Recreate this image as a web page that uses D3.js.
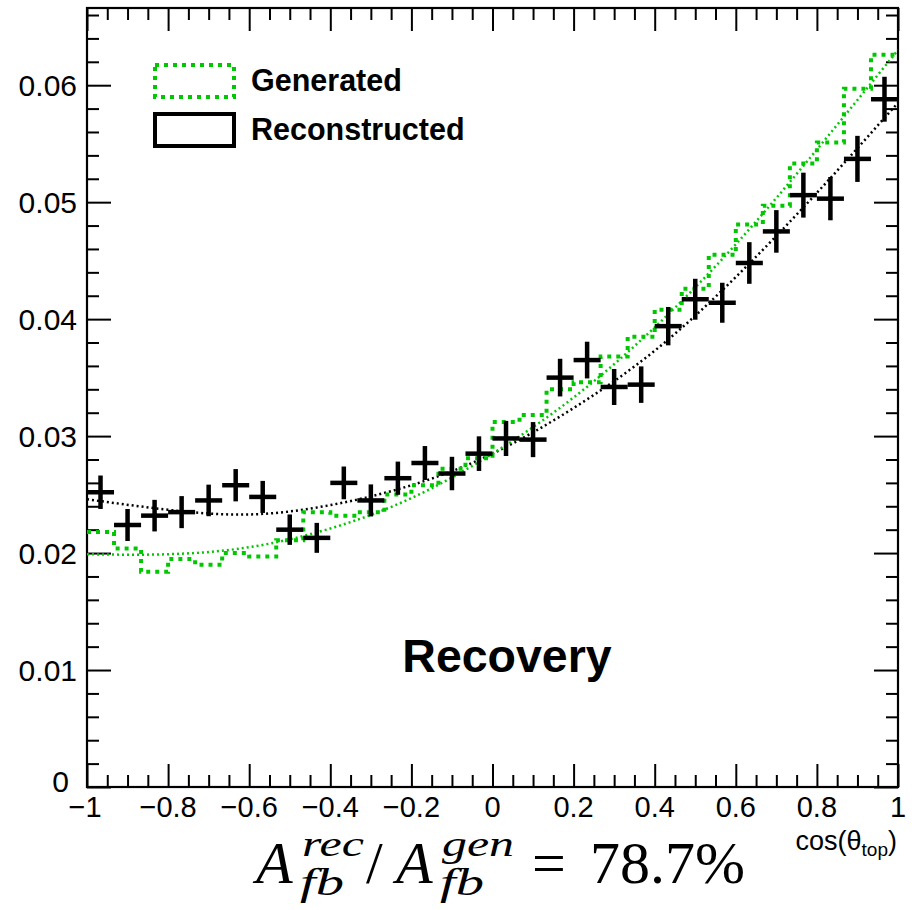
<!DOCTYPE html>
<html>
<head>
<meta charset="utf-8">
<script src="https://cdn.jsdelivr.net/npm/d3@7"></script>
<style>
  html, body { margin: 0; padding: 0; background: #fff; }
  svg { display: block; }
  text { font-family: "Liberation Sans", Arial, Helvetica, sans-serif; fill: #000; }
  text.math { font-family: "Liberation Serif", "Times New Roman", serif; }
</style>
</head>
<body>
<svg id="chart" width="918" height="910"></svg>
<script>
// Bin edges of cos(theta_top): 30 equal bins on [-1, 1]
const binLow = -1, binHigh = 1, nBins = 30;

// Generated distribution (normalised bin contents)
const generated = [
  0.0218, 0.0204, 0.0184, 0.0195, 0.0190, 0.0200, 0.0197, 0.0211, 0.0235, 0.0232,
  0.0235, 0.0250, 0.0258, 0.0272, 0.0281, 0.0312, 0.0318, 0.0340, 0.0346, 0.0368,
  0.0385, 0.0408, 0.0426, 0.0455, 0.0481, 0.0497, 0.0533, 0.0551, 0.0597, 0.0626
];

// Reconstructed distribution (normalised bin contents) and their uncertainties
const reconstructed = [
  0.0252, 0.0224, 0.0232, 0.0235, 0.0245, 0.0258, 0.0248, 0.0220, 0.0213, 0.0260,
  0.0245, 0.0264, 0.0277, 0.0268, 0.0285, 0.0298, 0.0297, 0.0350, 0.0365, 0.0342,
  0.0344, 0.0394, 0.0417, 0.0414, 0.0448, 0.0475, 0.0506, 0.0503, 0.0537, 0.0588
];
const recErrors = [
  0.00143, 0.00137, 0.00135, 0.00137, 0.00135, 0.00138, 0.00137, 0.00130, 0.00128, 0.00140,
  0.00137, 0.00142, 0.00145, 0.00143, 0.00148, 0.00150, 0.00150, 0.00161, 0.00157, 0.00154,
  0.00156, 0.00164, 0.00175, 0.00171, 0.00178, 0.00182, 0.00192, 0.00185, 0.00197, 0.00192
];

// Fitted curves, sampled at these cos(theta) points
const fitX      = [-1, -0.8, -0.6, -0.4, -0.2, 0, 0.2, 0.4, 0.6, 0.8, 1];
const genFit    = [0.0199, 0.0199, 0.0205, 0.0221, 0.0247, 0.0285, 0.0333, 0.0393, 0.0464, 0.0545, 0.0630];
const recFit    = [0.0246, 0.0237, 0.0233, 0.0241, 0.0258, 0.0285, 0.0324, 0.0373, 0.0436, 0.0508, 0.0585];

// Axis ticks
const xMajorTicks = [-1, -0.8, -0.6, -0.4, -0.2, 0, 0.2, 0.4, 0.6, 0.8, 1];
const xTickLabels = ["\u22121", "\u22120.8", "\u22120.6", "\u22120.4", "\u22120.2", "0", "0.2", "0.4", "0.6", "0.8", "1"];
const yMajorTicks = [0, 0.01, 0.02, 0.03, 0.04, 0.05, 0.06];
const yTickLabels = ["0", "0.01", "0.02", "0.03", "0.04", "0.05", "0.06"];
const yMax = 0.0666;

const legendItems = ["Generated", "Reconstructed"];

const GREEN = "#00c800";

const svg = d3.select("#chart");
const frame = { left: 87, right: 898, top: 8, bottom: 787 };

const x = d3.scaleLinear().domain([binLow, binHigh]).range([frame.left, frame.right]);
const y = d3.scaleLinear().domain([0, yMax]).range([frame.bottom, frame.top]);
const binW = (binHigh - binLow) / nBins;
const binStart = i => binLow + i * binW;

// Axes: ticks drawn inward on all four sides
const xMinor = d3.range(0, 41).map(k => -1 + k * 0.05);
const yMinor = d3.range(0, 34).map(k => k * 0.002);
const isMajorX = v => Math.abs(v * 5 - Math.round(v * 5)) < 1e-6;
const isMajorY = v => Math.abs(v * 100 - Math.round(v * 100)) < 1e-6;

const bottomAxis = d3.axisBottom(x).tickValues(xMinor).tickSizeInner(0).tickSizeOuter(0).tickFormat("");
// D3 axes place the ticks; lines are then turned to point inside the frame
function drawXTicks(yPos, dir) {
  const g = svg.append("g").attr("transform", `translate(0,${yPos})`).call(bottomAxis);
  g.select(".domain").remove();
  g.selectAll(".tick line")
    .attr("stroke", "#000").attr("stroke-width", 2)
    .attr("y1", 0)
    .attr("y2", d => dir * (isMajorX(d) ? 23 : 12));
}
drawXTicks(frame.bottom, -1);
drawXTicks(frame.top, 1);

const leftAxis = d3.axisLeft(y).tickValues(yMinor).tickSizeInner(0).tickSizeOuter(0).tickFormat("");
function drawYTicks(xPos, dir) {
  const g = svg.append("g").attr("transform", `translate(${xPos},0)`).call(leftAxis);
  g.select(".domain").remove();
  g.selectAll(".tick line")
    .attr("stroke", "#000").attr("stroke-width", 2)
    .attr("x1", 0)
    .attr("x2", d => dir * (isMajorY(d) ? 24 : 12));
}
drawYTicks(frame.left, 1);
drawYTicks(frame.right, -1);

// Frame
svg.append("rect")
  .attr("x", frame.left).attr("y", frame.top)
  .attr("width", frame.right - frame.left).attr("height", frame.bottom - frame.top)
  .attr("fill", "none").attr("stroke", "#000").attr("stroke-width", 2.2);

// Tick labels (the zero label sits a little up-left, clear of the "−1" below it)
svg.append("g").selectAll("text").data(yMajorTicks).join("text")
  .attr("x", d => frame.left - (d === 0 ? 18 : 10))
  .attr("y", d => y(d) - (d === 0 ? 6 : 0))
  .attr("dy", "0.36em")
  .attr("text-anchor", "end")
  .attr("font-size", 30)
  .text((d, i) => yTickLabels[i]);

svg.append("g").selectAll("text").data(xMajorTicks).join("text")
  .attr("x", d => x(d) - (d === -1 ? 2 : 0))
  .attr("y", 817)
  .attr("text-anchor", "middle")
  .attr("font-size", 29)
  .text((d, i) => xTickLabels[i]);

// Axis title cos(theta_top)
const xt = svg.append("text").attr("x", 897).attr("y", 850).attr("text-anchor", "end").attr("font-size", 27);
xt.append("tspan").text("cos(\u03b8");
xt.append("tspan").attr("font-size", 19).attr("dy", 6).text("top");
xt.append("tspan").attr("dy", -6).text(")");

// Clip to the frame
svg.append("clipPath").attr("id", "plotClip").append("rect")
  .attr("x", frame.left).attr("y", frame.top)
  .attr("width", frame.right - frame.left).attr("height", frame.bottom - frame.top);
const plot = svg.append("g").attr("clip-path", "url(#plotClip)");

// Fitted curves (fine dotted)
const fitLine = d3.line().x((d, i) => x(fitX[i])).y(d => y(d)).curve(d3.curveNatural);
plot.append("path").attr("d", fitLine(recFit))
  .attr("fill", "none").attr("stroke", "#000").attr("stroke-width", 2.5).attr("stroke-dasharray", "2 3");
plot.append("path").attr("d", fitLine(genFit))
  .attr("fill", "none").attr("stroke", GREEN).attr("stroke-width", 2.5).attr("stroke-dasharray", "2 3");

// Generated histogram as a dotted step outline
const stepPts = [];
generated.forEach((v, i) => {
  stepPts.push([binStart(i), v]);
  stepPts.push([binStart(i + 1), v]);
});
const stepLine = d3.line().x(d => x(d[0])).y(d => y(d[1]));
plot.append("path").attr("d", stepLine(stepPts))
  .attr("fill", "none").attr("stroke", GREEN).attr("stroke-width", 4)
  .attr("stroke-dasharray", "4 5");

// Reconstructed points with error crosses
const cross = plot.append("g").attr("stroke", "#000").attr("stroke-width", 4.5);
cross.selectAll("line.h").data(reconstructed).join("line").attr("class", "h")
  .attr("x1", (d, i) => x(binStart(i))).attr("x2", (d, i) => x(binStart(i + 1)))
  .attr("y1", d => y(d)).attr("y2", d => y(d));
cross.selectAll("line.v").data(reconstructed).join("line").attr("class", "v")
  .attr("x1", (d, i) => x(binStart(i) + binW / 2)).attr("x2", (d, i) => x(binStart(i) + binW / 2))
  .attr("y1", (d, i) => y(d - recErrors[i])).attr("y2", (d, i) => y(d + recErrors[i]));

// Legend
const legend = svg.append("g");
legend.append("rect").attr("x", 155).attr("y", 65).attr("width", 79).attr("height", 32)
  .attr("fill", "none").attr("stroke", GREEN).attr("stroke-width", 4).attr("stroke-dasharray", "4 5");
legend.append("rect").attr("x", 155).attr("y", 114).attr("width", 79).attr("height", 32)
  .attr("fill", "none").attr("stroke", "#000").attr("stroke-width", 4);
legend.selectAll("text").data(legendItems).join("text")
  .attr("x", 251).attr("y", (d, i) => 91 + i * 49)
  .attr("font-size", 30.5).attr("font-weight", "bold")
  .text(d => d);

// Panel label
svg.append("text").attr("x", 507).attr("y", 672).attr("text-anchor", "middle")
  .attr("font-size", 46.5).attr("font-weight", "bold").text("Recovery");

// Ratio of forward-backward asymmetries
const m = svg.append("g");
function mt(xp, yp, size, italic, str, len) {
  const t = m.append("text").attr("class", "math").attr("x", xp).attr("y", yp)
    .attr("font-size", size).attr("font-style", italic ? "italic" : "normal").text(str);
  if (len) t.attr("textLength", len).attr("lengthAdjust", "spacingAndGlyphs");
}
mt(256, 883, 60, true, "A");
mt(302, 856, 36, true, "rec", 62);
mt(300, 895, 38, true, "fb", 44);
mt(366, 883, 60, false, "/");
mt(396, 883, 60, true, "A");
mt(442, 856, 36, true, "gen", 72);
mt(440, 895, 38, true, "fb", 44);
mt(532, 883, 60, false, "=");
mt(590, 883, 60, false, "78.7%");
</script>
</body>
</html>
